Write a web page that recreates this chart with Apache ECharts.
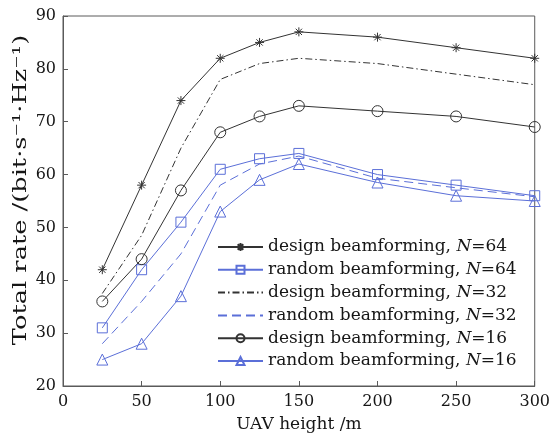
<!DOCTYPE html>
<html>
<head>
<meta charset="utf-8">
<script src="https://cdn.jsdelivr.net/npm/echarts@6/dist/echarts.min.js"></script>
<style>
  html, body { margin: 0; padding: 0; background: #fff; }
  #chart { width: 553px; height: 438px; }
</style>
</head>
<body>
<div id="chart"></div>
<script>
// UAV height (m)
var heights = [25, 50, 75, 100, 125, 150, 200, 250, 300];
// total rate, bit/s/Hz
var designN64 = [42, 58, 74, 82, 85, 87, 86, 84, 82];
var randomN64 = [31, 42, 51, 61, 63, 64, 60, 58, 56];
var designN32 = [37.5, 48.5, 65, 78, 81, 82, 81, 79, 77];
var randomN32 = [28, 36, 45, 58, 62, 63.5, 59.3, 57.5, 55.8];
var designN16 = [36, 44, 57, 68, 71, 73, 72, 71, 69];
var randomN16 = [25, 28, 37, 53, 59, 62, 58.5, 56, 55];
var xTicks = [0, 50, 100, 150, 200, 250, 300];
var yTicks = [20, 30, 40, 50, 60, 70, 80, 90];

var BLACK = '#333';
var BLUE = '#5b6fd8';
var TEXT = '#161616';
var FONT = 'DejaVu Serif';
var STAR = 'path://M5,0 L5,10 M0,5 L10,5 M1.5,1.5 L8.5,8.5 M8.5,1.5 L1.5,8.5';

function pairs(ys) {
  return heights.map(function (h, i) { return [h, ys[i]]; });
}

function makeSeries(name, ys, color, symbol, size, lineType) {
  return {
    name: name,
    type: 'line',
    data: pairs(ys),
    symbol: symbol,
    symbolSize: size,
    showSymbol: symbol !== 'none',
    animation: false,
    lineStyle: { color: color, width: 1, type: lineType || 'solid' },
    itemStyle: { color: 'transparent', borderColor: color, borderWidth: 1 },
    emphasis: { disabled: true }
  };
}

// legend entries; lines without markers get an invisible legend symbol
var names = [
  'design beamforming, N=64', 'random beamforming, N=64',
  'design beamforming, N=32', 'random beamforming, N=32',
  'design beamforming, N=16', 'random beamforming, N=16'
];
var legendData = names.map(function (n) {
  if (n.indexOf('N=32') > -1) {
    return { name: n, itemStyle: { color: 'transparent', borderColor: 'transparent', borderWidth: 0 } };
  }
  return { name: n };
});

var chart = echarts.init(document.getElementById('chart'), null, { renderer: 'canvas' });

var option = {
  backgroundColor: '#fff',
  animation: false,
  grid: { left: 63, right: 17, top: 16, bottom: 48, show: true, borderColor: '#5a5a5a', borderWidth: 1 },
  legend: {
    orient: 'vertical',
    left: 212,
    top: 232,
    itemWidth: 45,
    itemHeight: 10,
    itemGap: 2.8,
    textStyle: {
      fontFamily: FONT, fontSize: 17, color: TEXT, lineHeight: 20,
      rich: {
        a: { fontFamily: FONT, fontSize: 17, color: TEXT },
        i: { fontFamily: FONT, fontSize: 17, color: TEXT, fontStyle: 'italic' }
      }
    },
    formatter: function (name) {
      var parts = name.split('N=');
      return '{a|' + parts[0] + '}{i|N}{a|=' + parts[1] + '}';
    },
    data: legendData
  },
  graphic: [{
    type: 'text',
    x: 21,
    y: 190,
    rotation: Math.PI / 2,
    scaleX: 1.35,
    style: {
      text: 'Total rate /(bit·s⁻¹·Hz⁻¹)',
      font: '19px "DejaVu Serif"',
      fill: TEXT,
      textAlign: 'center',
      textVerticalAlign: 'middle'
    }
  }],
  xAxis: {
    type: 'value',
    min: 0, max: 300, interval: 50,
    name: 'UAV height /m',
    nameLocation: 'middle',
    nameGap: 30,
    nameTextStyle: { fontFamily: FONT, fontSize: 17, color: TEXT },
    axisLine: { lineStyle: { color: '#5a5a5a' } },
    axisTick: { inside: true, length: 5, lineStyle: { color: '#5a5a5a' } },
    axisLabel: {
      fontFamily: FONT, fontSize: 16, color: TEXT, margin: 8,
      formatter: function (v) { return xTicks.indexOf(v) >= 0 ? String(v) : ''; }
    },
    splitLine: { show: false }
  },
  yAxis: {
    type: 'value',
    min: 20, max: 90, interval: 10,
    axisLine: { lineStyle: { color: '#5a5a5a' } },
    axisTick: { inside: true, length: 5, lineStyle: { color: '#5a5a5a' } },
    axisLabel: {
      fontFamily: FONT, fontSize: 16, color: TEXT, margin: 7,
      formatter: function (v) { return yTicks.indexOf(v) >= 0 ? String(v) : ''; }
    },
    splitLine: { show: false }
  },
  series: [
    makeSeries(names[0], designN64, BLACK, STAR, 9),
    makeSeries(names[1], randomN64, BLUE, 'rect', 10),
    makeSeries(names[2], designN32, BLACK, 'none', 0, [7, 3, 1.5, 3]),
    makeSeries(names[3], randomN32, BLUE, 'none', 0, [9, 5]),
    makeSeries(names[4], designN16, BLACK, 'circle', 11),
    makeSeries(names[5], randomN16, BLUE, 'triangle', 11)
  ]
};

chart.setOption(option);
</script>
</body>
</html>
